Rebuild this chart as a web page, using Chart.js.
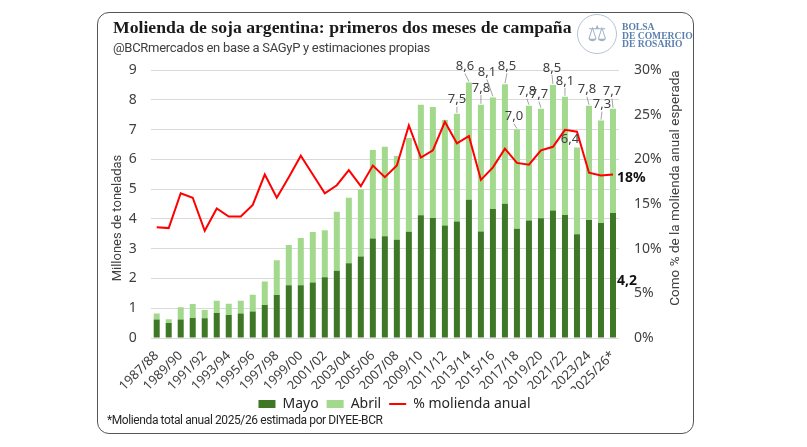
<!DOCTYPE html>
<html lang="es">
<head>
  <meta charset="UTF-8" />
  <title>Molienda de soja argentina</title>
  <script src="https://cdn.jsdelivr.net/npm/chart.js"></script>
  <style>
    body { margin: 0; background: #fff; }
    .lienzo { position: relative; width: 807px; height: 447px; overflow: hidden; }
    .tarjeta { position: absolute; left: 97px; top: 12px; width: 595px; height: 420px; border: 1px solid #555; border-radius: 12px; }
    #grafico { position: absolute; left: 0; top: 0; }
    .titulo { position: absolute; left: 113px; top: 17px; font: bold 17.7px "Liberation Serif", serif; color: #1a1a1a; white-space: nowrap; }
    .subtitulo { position: absolute; left: 113px; top: 40px; font: 13px Roboto, sans-serif; letter-spacing: -0.3px; color: #404040; white-space: nowrap; }
    .nota { position: absolute; left: 107px; top: 413px; font: 12px Roboto, sans-serif; letter-spacing: -0.4px; color: #262626; white-space: nowrap; }
    .logo-circulo { position: absolute; left: 577px; top: 14px; width: 38px; height: 38px; border: 1.5px solid #b3c3d6; border-radius: 50%; color: #9fb2c9; font: 22px "DejaVu Sans", sans-serif; text-align: center; line-height: 38px; }
    .logo-texto { position: absolute; left: 622px; top: 23px; font: bold 9.6px "Liberation Serif", serif; line-height: 8.6px; color: #5b7fae; white-space: nowrap; }
  </style>
</head>
<body>
  <div class="lienzo">
    <canvas id="grafico" width="807" height="447"></canvas>
    <div class="tarjeta"></div>
    <div class="titulo">Molienda de soja argentina: primeros dos meses de campaña</div>
    <div class="subtitulo">@BCRmercados en base a SAGyP y estimaciones propias</div>
    <div class="logo-circulo">⚖</div>
    <div class="logo-texto">BOLSA<br>DE COMERCIO<br>DE ROSARIO</div>
    <div class="nota">*Molienda total anual 2025/26 estimada por DIYEE-BCR</div>
  </div>

  <script>
    const campanias = ['1987/88', '1988/89', '1989/90', '1990/91', '1991/92', '1992/93', '1993/94', '1994/95', '1995/96', '1996/97',
      '1997/98', '1998/99', '1999/00', '2000/01', '2001/02', '2002/03', '2003/04', '2004/05', '2005/06', '2006/07',
      '2007/08', '2008/09', '2009/10', '2010/11', '2011/12', '2012/13', '2013/14', '2014/15', '2015/16', '2016/17',
      '2017/18', '2018/19', '2019/20', '2020/21', '2021/22', '2022/23', '2023/24', '2024/25', '2025/26*'];

    // millones de toneladas
    const mayo = [0.62, 0.50, 0.62, 0.67, 0.66, 0.84, 0.77, 0.82, 0.89, 1.11,
      1.44, 1.77, 1.77, 1.86, 2.04, 2.26, 2.51, 2.74, 3.34, 3.42,
      3.30, 3.57, 4.12, 4.03, 3.78, 3.91, 4.64, 3.58, 4.33, 4.51,
      3.67, 3.95, 4.02, 4.28, 4.13, 3.48, 3.96, 3.86, 4.20];

    const abril = [0.20, 0.13, 0.41, 0.47, 0.28, 0.41, 0.38, 0.43, 0.56, 0.79,
      1.17, 1.35, 1.59, 1.70, 1.58, 1.98, 2.20, 2.25, 2.97, 3.00,
      2.81, 3.15, 3.71, 3.73, 3.54, 3.62, 3.94, 4.25, 3.75, 4.01,
      3.33, 3.85, 3.68, 4.22, 3.97, 2.92, 3.84, 3.44, 3.50];

    // % de la molienda anual
    const moliendaAnual = [12.4, 12.3, 16.2, 15.7, 12.0, 14.5, 13.6, 13.6, 14.9, 18.3,
      15.7, 18.0, 20.4, 18.3, 16.2, 17.1, 18.8, 17.0, 19.3, 18.0,
      19.3, 23.8, 20.2, 21.0, 24.2, 21.8, 22.6, 17.7, 19.1, 21.2,
      19.6, 19.4, 21.0, 21.4, 23.3, 23.1, 18.5, 18.2, 18.3];

    const ticksIzq = [0, 1, 2, 3, 4, 5, 6, 7, 8, 9];
    const ticksDer = [0, 5, 10, 15, 20, 25, 30];

    // desplazamiento de las etiquetas de total (indice: [dx, dy])
    const posEtiquetas = {
      25: [0, -14], 26: [-4, -16], 27: [0, -17], 28: [-6, -25], 29: [2, -18],
      30: [-3, -13], 31: [-2, -14], 32: [-2, -14], 33: [-1, -17], 34: [0, -16],
      35: [-7, -8], 36: [-2, -16], 37: [1, -16], 38: [-1, -17]
    };

    const fuente = "'Noto Sans', sans-serif";
    const fuenteTit = "Roboto, sans-serif";
    const grisTexto = '#404040';

    const etiquetasPlugin = {
      id: 'etiquetas',
      afterDatasetsDraw(chart) {
        const ctx = chart.ctx;
        const xs = chart.scales.x;
        const ys = chart.scales.y;
        const y1 = chart.scales.y1;
        ctx.save();
        ctx.font = `13px ${fuente}`;
        ctx.textAlign = 'center';
        ctx.textBaseline = 'middle';
        Object.keys(posEtiquetas).forEach(k => {
          const i = Number(k);
          const total = mayo[i] + abril[i];
          const x = xs.getPixelForValue(i);
          const top = ys.getPixelForValue(total);
          const lx = x + posEtiquetas[k][0];
          const ly = top + posEtiquetas[k][1];
          if (ly + 7 < top - 2) {
            ctx.strokeStyle = '#8c8c8c';
            ctx.lineWidth = 0.8;
            ctx.beginPath();
            ctx.moveTo(lx, ly + 7);
            ctx.lineTo(x, top - 1);
            ctx.stroke();
          }
          ctx.fillStyle = grisTexto;
          ctx.fillText(total.toFixed(1).replace('.', ','), lx, ly);
        });

        const u = mayo.length - 1;
        const xu = xs.getPixelForValue(u);
        ctx.font = `bold 14px ${fuente}`;
        ctx.fillStyle = '#111';
        ctx.textAlign = 'left';
        ctx.fillText(mayo[u].toFixed(1).replace('.', ','), xu + 4, ys.getPixelForValue(mayo[u] / 2) + 6);
        ctx.fillText(Math.round(moliendaAnual[u]) + '%', xu + 4, y1.getPixelForValue(moliendaAnual[u]) + 3);

        // titulos de ejes
        ctx.font = `13px ${fuenteTit}`;
        ctx.fillStyle = grisTexto;
        ctx.textAlign = 'center';
        ctx.save();
        ctx.translate(118, 218);
        ctx.rotate(-Math.PI / 2);
        ctx.fillText('Millones de toneladas', 0, 0);
        ctx.restore();
        ctx.save();
        ctx.translate(676, 188);
        ctx.rotate(-Math.PI / 2);
        ctx.font = `13.5px ${fuenteTit}`;
        ctx.fillText('Como % de la molienda anual esperada', 0, 0);
        ctx.restore();
        ctx.restore();
      }
    };

    new Chart(document.getElementById('grafico'), {
      type: 'bar',
      data: {
        labels: campanias,
        datasets: [
          {
            label: 'Mayo',
            data: mayo,
            backgroundColor: '#3e7827',
            stack: 'a',
            order: 1,
            barPercentage: 0.5,
            categoryPercentage: 1.0
          },
          {
            label: 'Abril',
            data: abril,
            backgroundColor: '#a3d98c',
            stack: 'a',
            order: 1,
            barPercentage: 0.5,
            categoryPercentage: 1.0
          },
          {
            type: 'line',
            label: '% molienda anual',
            data: moliendaAnual,
            yAxisID: 'y1',
            borderColor: '#ff0000',
            backgroundColor: '#ff0000',
            borderWidth: 2,
            pointRadius: 0,
            tension: 0,
            order: 0
          }
        ]
      },
      options: {
        responsive: false,
        animation: false,
        layout: { padding: { left: 100, right: 118, top: 70, bottom: 26 } },
        scales: {
          x: {
            stacked: true,
            grid: { display: false },
            border: { display: false },
            afterFit: s => { s.height = 51; },
            ticks: {
              autoSkip: false,
              maxRotation: 45,
              minRotation: 45,
              padding: 2,
              color: grisTexto,
              font: { family: fuente, size: 13 },
              callback: (v, i) => i % 2 === 0 ? campanias[i] : ''
            }
          },
          y: {
            stacked: true,
            min: 0,
            max: 9,
            afterFit: s => { s.width = 50.7; },
            afterBuildTicks: s => { s.ticks = ticksIzq.map(v => ({ value: v })); },
            grid: { color: '#d9d9d9', drawTicks: false },
            border: { display: false },
            ticks: { padding: 14, color: grisTexto, font: { family: fuente, size: 14 } }
          },
          y1: {
            position: 'right',
            min: 0,
            max: 30,
            afterFit: s => { s.width = 70; },
            afterBuildTicks: s => { s.ticks = ticksDer.map(v => ({ value: v })); },
            grid: { display: false, drawTicks: false },
            border: { display: false },
            ticks: { padding: 15, color: grisTexto, font: { family: fuente, size: 14 }, callback: v => v + '%' }
          }
        },
        plugins: {
          legend: {
            position: 'bottom',
            labels: {
              usePointStyle: true,
              pointStyleWidth: 17,
              boxHeight: 8,
              padding: 8,
              color: '#262626',
              font: { family: fuente, size: 14 },
              generateLabels: chart => chart.data.datasets.map((ds, i) => ({
                text: ds.label,
                fillStyle: ds.backgroundColor,
                strokeStyle: ds.type === 'line' ? ds.borderColor : ds.backgroundColor,
                lineWidth: ds.type === 'line' ? 2 : 0,
                pointStyle: ds.type === 'line' ? 'line' : 'rect',
                fontColor: '#262626',
                hidden: false,
                datasetIndex: i
              }))
            }
          },
          tooltip: { enabled: false }
        }
      },
      plugins: [etiquetasPlugin]
    });
  </script>
</body>
</html>
